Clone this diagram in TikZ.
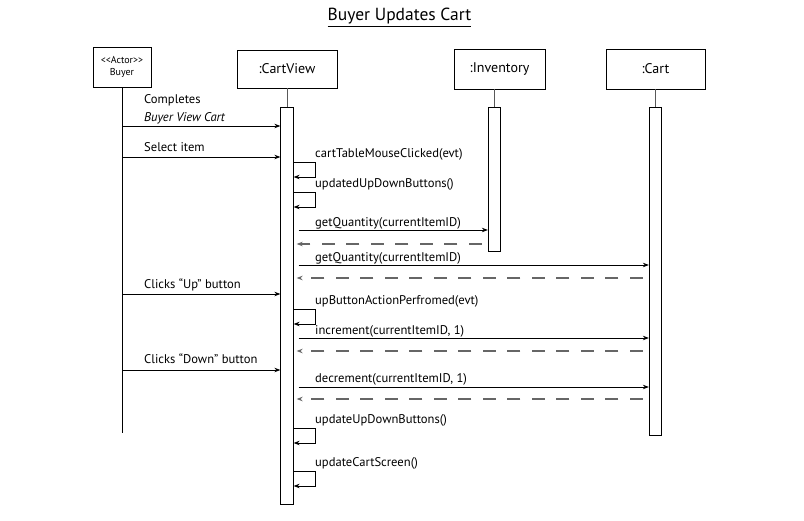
\documentclass[tikz,border=0pt]{standalone}
\usepackage{fontspec}
\setmainfont{PT Sans}
\usetikzlibrary{arrows.meta}

\tikzset{
  obj/.style={draw, line width=0.8pt, inner sep=0pt, minimum height=39pt, font=\fontsize{14}{16}\selectfont},
  actbar/.style={draw, fill=white, line width=0.8pt, inner sep=0pt, minimum width=12.5pt},
  life/.style={draw=black!65, line width=1pt},
  msg/.style={-{Stealth[length=6pt,width=4.5pt]}, line width=0.8pt},
  ret/.style={-{Stealth[length=6pt,width=4.5pt]}, draw=black!60, line width=1.1pt, dash pattern=on 13pt off 11.5pt, shorten >=3pt, shorten <=6pt},
  lbl/.style={anchor=base west, inner sep=0pt, font=\fontsize{12.6}{14}\selectfont}
}

\begin{document}
\begin{tikzpicture}[x=1pt,y=-1pt]
  \useasboundingbox (0,0) rectangle (804,521);
  \node[anchor=base, inner sep=0pt, font=\fontsize{17.5}{19}\selectfont] (title) at (399.5,21) {\underline{Buyer Updates Cart}};

  % objects
  \node[obj, minimum width=58pt, minimum height=40pt, align=center, font=\fontsize{10}{12.5}\selectfont] (buyer) at (122,67) {\textless\kern0pt\textless Actor\textgreater\kern0pt\textgreater\\Buyer};
  \node[obj, minimum width=100pt, minimum height=38pt] (cv) at (287,69) {:CartView};
  \node[obj, minimum width=91pt, minimum height=40pt] (inv) at (499.5,69) {:Inventory};
  \node[obj, minimum width=99pt, minimum height=40pt] (cart) at (655.5,69) {:Cart};

  % activation bars
  \node[actbar, minimum height=397pt] (actCV) at (287,305.5) {};
  \node[actbar, minimum height=144pt] (actInv) at (494.5,179) {};
  \node[actbar, minimum height=328pt] (actCart) at (655.5,271) {};

  % lifelines
  \coordinate (buyerEnd) at (122,433);
  \draw[line width=0.8pt] (buyer.south) -- (buyerEnd);
  \draw[life] (cv.south) -- (actCV.north);
  \draw[life] (actInv.north |- inv.south) -- (actInv.north);
  \draw[life] (actCart.north |- cart.south) -- (actCart.north);

  % messages from the buyer
  \draw[msg] (buyer.south |- 0,126) -- (actCV.west |- 0,126);
  \node[lbl] (m1) at (144,104) {Completes};
  \node[lbl] (m1b) at (144,122) {\itshape Buyer View Cart};
  \draw[msg] (buyer.south |- 0,157) -- (actCV.west |- 0,157);
  \node[lbl] (m2) at (144,152) {Select item};
  \draw[msg] (buyer.south |- 0,294) -- (actCV.west |- 0,294);
  \node[lbl] (m3) at (144,289) {Clicks “Up” button};
  \draw[msg] (buyer.south |- 0,370) -- (actCV.west |- 0,370);
  \node[lbl] (m4) at (144,364) {Clicks “Down” button};

  % routine for self calls
  \foreach \y/\txt in {162/cartTableMouseClicked(evt), 192/updatedUpDownButtons(), 309/upButtonActionPerfromed(evt), 428/updateUpDownButtons(), 471/updateCartScreen()} {
    \draw[msg] (actCV.east |- 0,\y) -- ++(22,0) -- ++(0,15) -- (actCV.east |- 0,\y+15);
    \node[lbl] (self\y) at (315,\y-4) {\txt};
  }

  % calls and returns
  \draw[msg, shorten <=5pt] (actCV.east |- 0,230) -- (actInv.west |- 0,230);
  \node[lbl] (c1) at (315,227) {getQuantity(currentItemID)};
  \draw[ret] (actInv.west |- 0,244) -- (actCV.east |- 0,244);
  \draw[msg, shorten <=5pt] (actCV.east |- 0,265) -- (actCart.west |- 0,265);
  \node[lbl] (c2) at (315,262) {getQuantity(currentItemID)};
  \draw[ret] (actCart.west |- 0,278) -- (actCV.east |- 0,278);
  \draw[msg, shorten <=5pt] (actCV.east |- 0,338) -- (actCart.west |- 0,338);
  \node[lbl] (c3) at (315,335) {increment(currentItemID, 1)};
  \draw[ret] (actCart.west |- 0,351) -- (actCV.east |- 0,351);
  \draw[msg, shorten <=5pt] (actCV.east |- 0,387) -- (actCart.west |- 0,387);
  \node[lbl] (c4) at (315,383) {decrement(currentItemID, 1)};
  \draw[ret] (actCart.west |- 0,399) -- (actCV.east |- 0,399);
\end{tikzpicture}
\end{document}
